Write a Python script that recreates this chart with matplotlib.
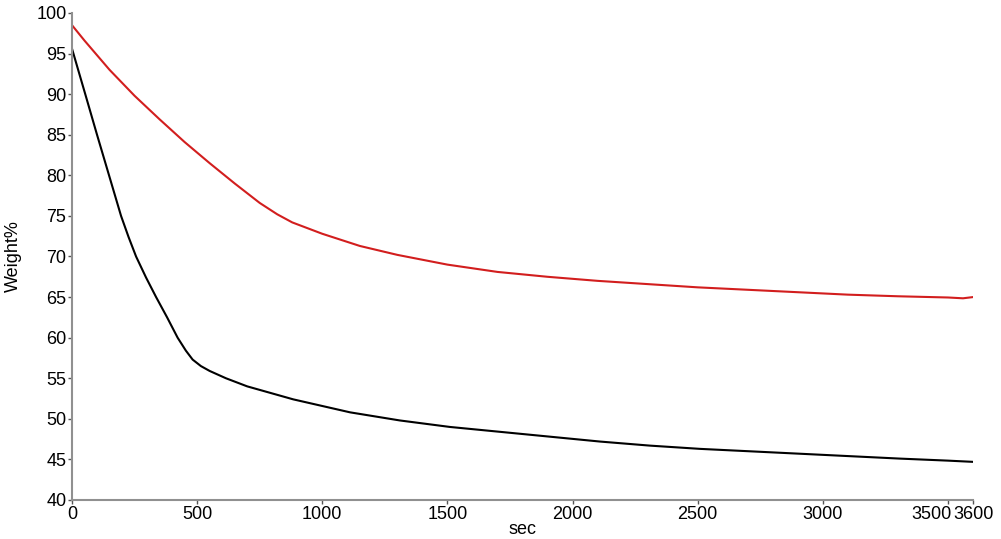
import matplotlib
matplotlib.use("Agg")
import matplotlib.pyplot as plt
import matplotlib.transforms as mtransforms

plt.rcParams['font.family'] = ['Liberation Sans', 'DejaVu Sans']

# red sample
t_red = [0, 50, 150, 250, 350, 450, 550, 650, 750, 820, 880, 1000, 1150, 1300,
         1500, 1700, 1900, 2100, 2300, 2500, 2700, 2900, 3100, 3300, 3500, 3560, 3600]
w_red = [98.5, 96.6, 93.0, 89.8, 86.9, 84.1, 81.5, 79.0, 76.6, 75.2, 74.2, 72.8, 71.3, 70.2,
         69.0, 68.1, 67.5, 67.0, 66.6, 66.2, 65.9, 65.6, 65.3, 65.1, 64.95, 64.85, 65.0]

# black sample
t_blk = [0, 53, 100, 148, 196, 226, 256, 296, 336, 380, 422, 455, 482, 515, 550, 615, 700, 884,
         1111, 1310, 1510, 1710, 1910, 2110, 2309, 2509, 2709, 2909, 3108, 3308, 3500, 3600]
w_blk = [95.6, 90.0, 85.0, 80.0, 75.0, 72.4, 70.0, 67.4, 65.0, 62.5, 60.0, 58.4, 57.3, 56.5, 55.9,
         55.0, 54.0, 52.4, 50.8, 49.8, 49.0, 48.4, 47.8, 47.2, 46.7, 46.3, 46.0, 45.7, 45.4, 45.1,
         44.85, 44.7]

xticks = [0, 500, 1000, 1500, 2000, 2500, 3000, 3500, 3600]
yticks = list(range(40, 101, 5))

fig = plt.figure(figsize=(10.01, 5.39), dpi=100)
ax = fig.add_axes([72/1001, 39/539, 901/1001, 487/539])

ax.plot(t_red, w_red, color='#d21e1e', lw=1.5)
ax.plot(t_blk, w_blk, color='black', lw=1.5)

ax.set_xlim(0, 3600)
ax.set_ylim(40, 100)
ax.set_xticks(xticks)
ax.set_yticks(yticks)
ax.tick_params(labelsize=13, length=3, width=1, color='#555555', pad=1)

# last two x labels sit side by side instead of centred
lbls = ax.get_xticklabels()
lbls[-2].set_horizontalalignment('right')
lbls[-2].set_transform(lbls[-2].get_transform() +
                       mtransforms.ScaledTranslation(4/100, 0, fig.dpi_scale_trans))
lbls[-1].set_horizontalalignment('left')
lbls[-1].set_transform(lbls[-1].get_transform() +
                       mtransforms.ScaledTranslation(-20/100, 0, fig.dpi_scale_trans))

for s in ['top', 'right']:
    ax.spines[s].set_visible(False)
for s in ['left', 'bottom']:
    ax.spines[s].set_color('#909090')
    ax.spines[s].set_linewidth(1.5)

ax.set_xlabel('sec', fontsize=13, labelpad=-1)
ax.set_ylabel('Weight%', fontsize=13, labelpad=10)

fig.savefig('out.png', dpi=100)
